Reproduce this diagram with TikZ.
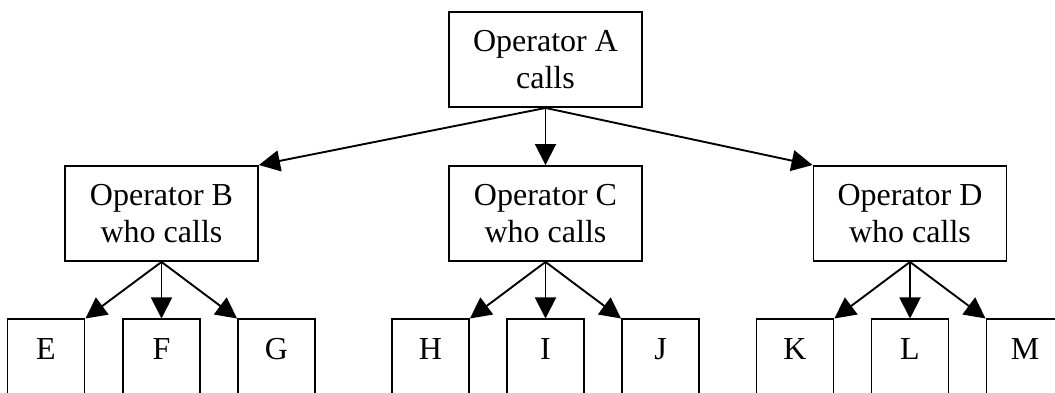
\documentclass[tikz,border=0pt]{standalone}
\usepackage{fontspec}
\setmainfont{Liberation Serif}
\usetikzlibrary{arrows.meta}

\tikzset{
  every picture/.style={x=1pt,y=1pt},
  opbox/.style={draw, line width=1.9pt, minimum width=193pt, minimum height=95pt,
    inner sep=0pt, align=center, font=\fontsize{32}{37}\selectfont},
  leaf/.style={draw, line width=1.9pt, minimum width=77pt, minimum height=160pt,
    inner sep=0pt, anchor=north},
  letter/.style={anchor=base, inner sep=0pt, font=\fontsize{32}{37}\selectfont},
  call/.style={line width=1.9pt, -{Triangle[length=21pt,width=21pt]}}
}

\begin{document}
\begin{tikzpicture}
\useasboundingbox (0,0) rectangle (1055,393);
\clip (0,0) rectangle (1055,393);

% operators
\node[opbox] (A) at (545.5,333.5) {Operator A\\calls};
\node[opbox] (B) at (161.5,179.5) {Operator B\\who calls};
\node[opbox] (C) at (545.5,179.5) {Operator C\\who calls};
\node[opbox] (D) at (910,179.5) {Operator D\\who calls};

% called parties (boxes run past the lower edge)
\foreach \n/\x in {E/46, F/161.5, G/276.5, H/430.5, I/545.5, J/660.5, K/795, L/910, M/1025}{
  \node[leaf] (\n) at (\x,74.5) {};
  \node[letter] (\n txt) at ([yshift=-41.5pt]\n.north) {\n};
}

% calls from A
\draw[call] (A.south) -- (B.north east);
\draw[call] (A.south) -- (C.north);
\draw[call] (A.south) -- (D.north west);

% calls from B, C, D
\draw[call] (B.south) -- (E.north east);
\draw[call] (B.south) -- (F.north);
\draw[call] (B.south) -- (G.north west);
\draw[call] (C.south) -- (H.north east);
\draw[call] (C.south) -- (I.north);
\draw[call] (C.south) -- (J.north west);
\draw[call] (D.south) -- (K.north east);
\draw[call] (D.south) -- (L.north);
\draw[call] (D.south) -- (M.north west);
\end{tikzpicture}
\end{document}
